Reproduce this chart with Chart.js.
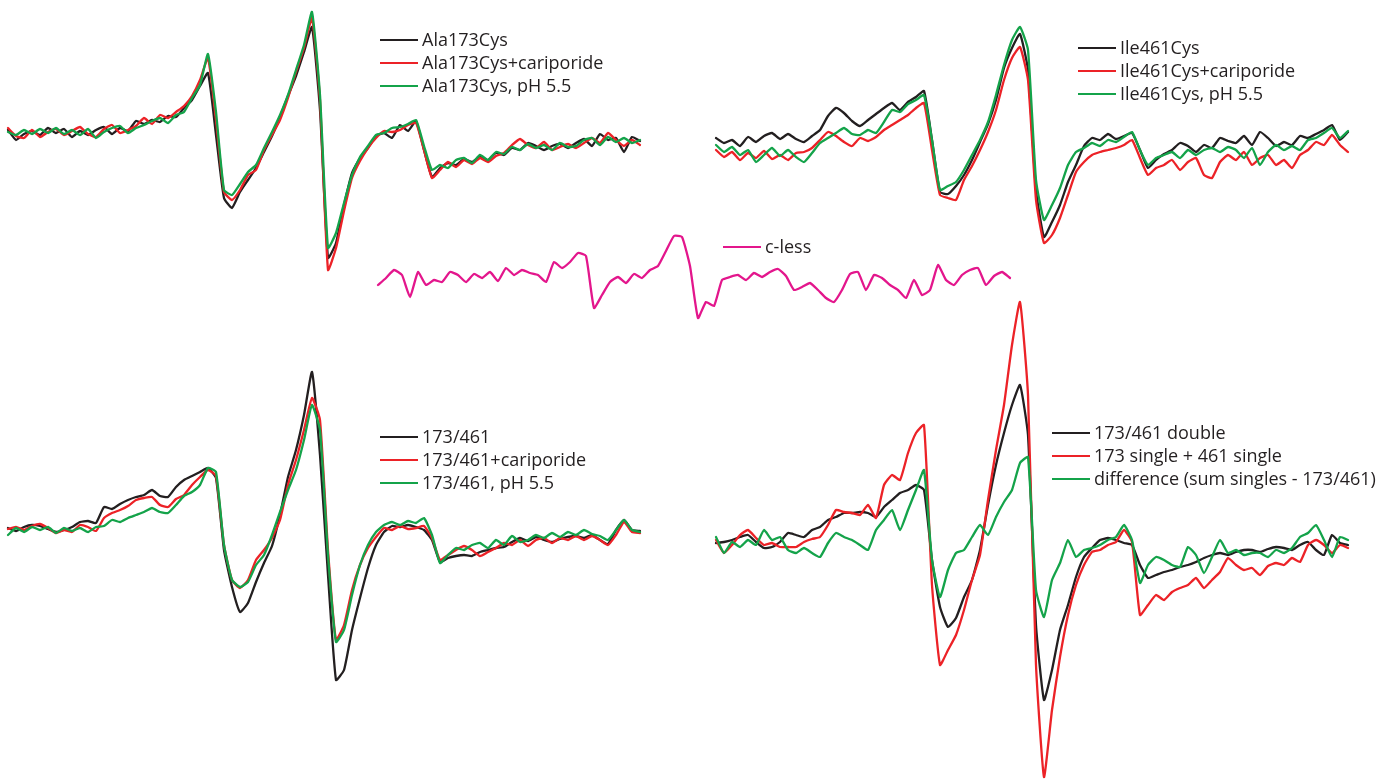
<!DOCTYPE html>
<html>
<head>
<meta charset="utf-8">
<script src="https://cdn.jsdelivr.net/npm/chart.js@4.4.1/dist/chart.umd.min.js"></script>
<style>
  html, body { margin: 0; padding: 0; background: #ffffff; }
  body { width: 1399px; height: 783px; overflow: hidden; position: relative;
         font-family: "Open Sans", "Noto Sans", sans-serif; }
  canvas { position: absolute; }
  .legend { position: absolute; font-size: 18px; color: #231f20; line-height: 23px; }
  .legend .row { display: flex; align-items: center; white-space: nowrap; height: 23px; }
  .legend .swatch { display: inline-block; width: 38px; height: 2px; margin-right: 4px; }
</style>
</head>
<body>
<script>
// EPR first-derivative spectra, amplitudes in arbitrary units, sampled on a
// uniform field grid (80 points per trace, left to right).

// Ala173Cys single mutant
const ala173 = [3,-7,-1,2,-2,5,0,4,-4,2,
  -2,3,6,-1,5,2,12,9,13,11,
  17,16,25,33,47,60,-2,-65,-75,-59,
  -47,-35,-19,-3,16,37,57,81,106,23,
  -125,-110,-72,-40,-25,-15,-3,0,-5,8,
  2,12,-17,-44,-35,-30,-32,-26,-29,-24,
  -27,-20,-22,-15,-17,-10,-13,-17,-13,-11,
  -15,-10,-6,-13,-1,-7,-5,-19,-4,-8];
const ala173Cari = [5,-3,-5,3,-4,1,4,-2,2,6,
  -1,-4,4,8,0,3,7,15,9,18,
  15,21,27,37,53,75,13,-59,-67,-57,
  -42,-37,-17,-2,13,35,61,85,115,33,
  -137,-115,-78,-45,-28,-15,-5,2,1,3,
  8,10,-17,-45,-37,-29,-34,-27,-31,-25,
  -29,-23,-20,-12,-6,-12,-15,-9,-17,-14,
  -11,-15,-10,-5,-10,0,-7,-13,-7,-12];
const ala173Ph55 = [1,-2,3,-1,4,0,5,-1,3,-2,
  4,-5,1,5,7,0,5,8,12,15,
  10,18,21,35,48,79,21,-57,-62,-51,
  -39,-32,-15,1,18,38,63,88,121,38,
  -115,-100,-70,-42,-24,-13,-2,0,5,6,
  9,13,-13,-37,-32,-35,-27,-25,-30,-22,
  -27,-19,-21,-14,-17,-11,-15,-12,-17,-10,
  -14,-13,-7,-5,-12,-4,-9,-5,-10,-7];

// Ile461Cys single mutant
const ile461 = [7,2,5,-1,8,3,9,12,6,11,
  6,3,9,15,29,37,32,24,19,25,
  31,37,42,35,43,48,54,5,-47,-49,
  -41,-30,-15,3,21,45,77,97,111,75,
  -45,-92,-77,-60,-37,-20,-1,7,5,11,
  6,9,12,-5,-23,-15,-9,-5,2,-1,
  -7,0,-3,7,4,2,9,0,13,7,
  -1,3,0,9,7,11,15,20,5,13];
const ile461Cari = [-5,-12,-7,-15,-8,-13,-6,-14,-10,-15,
  -8,-7,-3,5,13,9,3,-1,7,4,
  8,15,20,25,30,37,42,-5,-50,-53,
  -55,-35,-21,-5,13,35,65,87,98,65,
  -55,-98,-90,-73,-50,-27,-17,-10,-7,-5,
  -3,0,5,-13,-30,-23,-20,-15,-25,-17,
  -13,-30,-33,-17,-10,-15,-7,-20,-13,-10,
  -20,-15,-23,-10,-5,3,0,10,0,-7];
const ile461Ph55 = [0,-7,-2,-10,-5,-17,-10,-3,-11,-5,
  -12,-17,-8,2,7,12,17,11,10,15,
  12,23,35,33,41,45,50,5,-45,-41,
  -37,-25,-10,5,23,50,80,105,118,95,
  -35,-75,-60,-43,-20,-7,-3,2,-1,5,
  3,8,13,-5,-20,-13,-10,-7,-13,-5,
  -10,-5,-3,-7,-2,-5,-13,-3,-20,-7,
  0,-5,-1,-5,5,7,12,17,7,14];

// cysteine-less background
const cLess = [-7,0,8,3,-19,6,-7,-2,-4,6,
  3,-4,4,0,6,-3,10,3,8,5,
  3,-4,16,10,16,25,22,-30,-17,-4,
  1,-5,4,0,8,12,27,42,41,12,
  -40,-24,-28,-2,1,3,-2,5,1,6,
  9,2,-12,-9,-5,-12,-20,-24,-12,4,
  6,-12,3,0,-7,-12,-20,-2,-17,-12,
  13,-2,-7,3,8,10,-7,2,6,0];

// 173/461 double mutant
const dbl = [2,-1,3,5,4,1,-2,0,3,8,
  9,7,23,21,26,30,33,35,40,34,
  33,43,50,54,58,62,52,-20,-57,-82,
  -73,-52,-33,-16,15,53,80,115,158,75,
  -45,-150,-140,-100,-68,-38,-15,-2,4,3,
  5,3,0,-10,-32,-28,-26,-25,-26,-22,
  -20,-18,-17,-12,-8,-11,-7,-10,-12,-9,
  -7,-6,-8,-5,-10,-14,0,10,0,-1];
const dblCari = [1,3,0,4,6,2,-3,0,-2,5,
  3,-1,12,17,20,24,30,32,33,25,
  23,31,35,45,53,60,54,-15,-50,-58,
  -50,-30,-20,-8,10,45,70,100,132,110,
  -20,-110,-95,-60,-35,-18,-7,2,0,4,
  1,2,4,-8,-30,-25,-20,-16,-20,-26,
  -22,-18,-13,-15,-10,-16,-10,-8,-13,-8,
  -10,-6,-10,-6,-10,-15,-5,8,-2,-3];
const dblPh55 = [-5,2,-2,3,0,3,-3,2,-1,2,
  -2,3,4,10,8,12,15,18,22,18,
  17,25,34,38,45,62,58,-15,-50,-57,
  -52,-35,-25,-5,18,40,60,90,125,100,
  -25,-112,-100,-65,-35,-15,-2,5,8,5,
  9,7,12,-5,-33,-25,-18,-20,-15,-13,
  -18,-10,-15,-6,-12,-10,-5,-8,-3,-7,
  -2,-5,0,-4,-6,-10,0,10,0,-2];

// double mutant vs. sum of the two singles
const pairDouble = [2,3,5,8,10,3,-3,-2,3,12,
  10,8,15,18,25,28,32,32,33,32,
  28,38,45,52,55,60,55,-15,-62,-82,
  -73,-52,-35,-5,40,80,112,140,160,110,
  -80,-155,-125,-85,-60,-32,-12,-3,5,7,
  5,2,0,-20,-33,-30,-27,-25,-22,-20,
  -17,-13,-10,-8,-10,-7,-5,-5,-7,-4,
  -2,-3,-5,0,3,-5,-10,10,2,0];
const pairSum = [5,-8,0,10,15,7,0,2,-2,-2,
  -2,3,6,8,20,35,33,32,30,40,
  27,60,70,65,92,112,120,-40,-120,-105,
  -90,-65,-35,-10,45,95,140,200,243,150,
  -120,-232,-165,-112,-70,-40,-20,-7,-5,0,
  3,15,3,-70,-60,-50,-55,-47,-43,-40,
  -33,-43,-35,-27,-13,-20,-25,-23,-30,-21,
  -18,-20,-13,-17,0,5,0,-8,0,-3];
const pairDiff = [8,-8,3,-2,5,0,15,5,8,-5,
  -8,-3,-8,-12,2,12,8,5,0,-5,
  15,25,35,15,35,55,75,-15,-52,-25,
  -8,-5,8,20,10,28,43,55,82,88,
  -45,-72,-35,-18,5,-12,-5,-3,0,5,
  8,20,5,-38,-20,-12,-15,-20,-22,-2,
  -10,-28,-12,5,-8,-5,-10,-8,-8,-12,
  -5,-8,-3,8,12,20,5,-12,8,5];

const BLACK = '#231f20';
const RED = '#ec2227';
const GREEN = '#14a34a';
const MAGENTA = '#e3168c';

const STEP = 8;   // px between field samples
const PAD = 4;

const panels = [
  { left: 8, top: 0, height: 285, base: 133,
    legend: { x: 380, y: 28 },
    series: [
      { name: 'Ala173Cys', color: BLACK, values: ala173 },
      { name: 'Ala173Cys+cariporide', color: RED, values: ala173Cari },
      { name: 'Ala173Cys, pH 5.5', color: GREEN, values: ala173Ph55 } ] },
  { left: 716, top: 10, height: 250, base: 145,
    legend: { x: 1078, y: 36 },
    series: [
      { name: 'Ile461Cys', color: BLACK, values: ile461 },
      { name: 'Ile461Cys+cariporide', color: RED, values: ile461Cari },
      { name: 'Ile461Cys, pH 5.5', color: GREEN, values: ile461Ph55 } ] },
  { left: 378, top: 222, height: 105, base: 278,
    legend: { x: 723, y: 235 },
    series: [
      { name: 'c-less', color: MAGENTA, values: cLess } ] },
  { left: 8, top: 355, height: 345, base: 530,
    legend: { x: 380, y: 425 },
    series: [
      { name: '173/461', color: BLACK, values: dbl },
      { name: '173/461+cariporide', color: RED, values: dblCari },
      { name: '173/461, pH 5.5', color: GREEN, values: dblPh55 } ] },
  { left: 716, top: 288, height: 495, base: 545,
    legend: { x: 1052, y: 421 },
    series: [
      { name: '173/461 double', color: BLACK, values: pairDouble },
      { name: '173 single + 461 single', color: RED, values: pairSum },
      { name: 'difference (sum singles - 173/461)', color: GREEN, values: pairDiff } ] }
];

function drawPanel(p) {
  const n = p.series[0].values.length;
  const c = document.createElement('canvas');
  c.width = (n - 1) * STEP + 2 * PAD;
  c.height = p.height;
  c.style.left = (p.left - PAD) + 'px';
  c.style.top = p.top + 'px';
  document.body.appendChild(c);

  const labels = p.series[0].values.map((_, i) => i);
  new Chart(c, {
    type: 'line',
    data: {
      labels: labels,
      datasets: p.series.map((s, k) => ({
        label: s.name,
        data: s.values,
        borderColor: s.color,
        borderWidth: 2.3,
        pointRadius: 0,
        tension: 0.15,
        borderJoinStyle: 'round',
        borderCapStyle: 'round',
        order: p.series.length - k,
        clip: false
      }))
    },
    options: {
      responsive: false,
      animation: false,
      events: [],
      layout: { padding: PAD },
      plugins: { legend: { display: false }, tooltip: { enabled: false } },
      scales: {
        x: { display: false },
        y: { display: false,
             min: p.base - (p.top + p.height - PAD),
             max: p.base - (p.top + PAD) }
      }
    }
  });

  const lg = document.createElement('div');
  lg.className = 'legend';
  lg.style.left = p.legend.x + 'px';
  lg.style.top = p.legend.y + 'px';
  p.series.forEach(s => {
    const row = document.createElement('div');
    row.className = 'row';
    const sw = document.createElement('span');
    sw.className = 'swatch';
    sw.style.background = s.color;
    const tx = document.createElement('span');
    tx.textContent = s.name;
    row.appendChild(sw);
    row.appendChild(tx);
    lg.appendChild(row);
  });
  document.body.appendChild(lg);
}

panels.forEach(drawPanel);
</script>
</body>
</html>
